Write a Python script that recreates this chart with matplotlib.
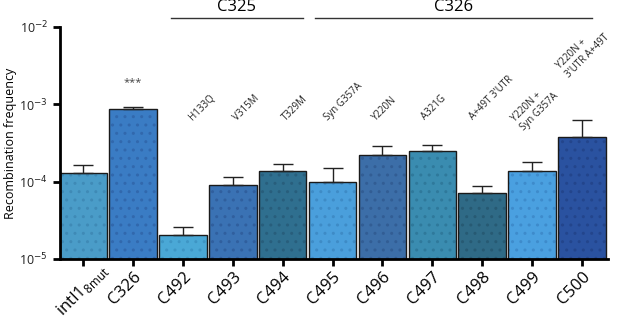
import numpy as np
import matplotlib
matplotlib.use("Agg")
import matplotlib.pyplot as plt
import matplotlib.transforms as mtransforms

plt.rcParams['font.family'] = ['Open Sans', 'DejaVu Sans']
plt.rcParams['hatch.linewidth'] = 1.0

strains = [r'intI1$_{\mathregular{8mut}}$', 'C326', 'C492', 'C493', 'C494', 'C495',
           'C496', 'C497', 'C498', 'C499', 'C500']
freq = [1.3e-4, 8.7e-4, 2.05e-5, 9.1e-5, 1.38e-4, 9.8e-5,
        2.2e-4, 2.45e-4, 7.1e-5, 1.35e-4, 3.8e-4]
freq_err_top = [1.65e-4, 9.3e-4, 2.6e-5, 1.15e-4, 1.7e-4, 1.48e-4,
                2.9e-4, 2.95e-4, 8.8e-5, 1.8e-4, 6.2e-4]
colors = ['#4a9cc8', '#3a7cc4', '#4aa8d6', '#3a72b4', '#2f6f8f', '#4a9fdc',
          '#3c6ea8', '#3a8cb0', '#2f6a86', '#4aa0e0', '#2a52a0']
hatch_colors = ['#3f8ab6', '#3168ad', '#3e95c4', '#305f9e', '#285e7c', '#3e8bc6',
                '#325d94', '#2f799b', '#275a73', '#3e8bcb', '#23458c']

mutations = ['H133Q', 'V315M', 'T329M', 'Syn G357A', 'Y220N', 'A321G',
             "A+49T 3'UTR", 'Y220N +\nSyn G357A', "Y220N +\n3'UTR A+49T"]
mut_bar = [2, 3, 4, 5, 6, 7, 8, 9, 10]
groups = ['C325', 'C326']
group_spans = [(1.75, 4.4), (4.65, 10.2)]

# label anchor offsets (layout only)
mut_dx = [0.24, 0.13, 0.11, -0.05, -0.09, -0.11, -0.14, -0.12, -0.22]
mut_y = [0.586, 0.586, 0.586, 0.586, 0.586, 0.59, 0.59, 0.543, 0.772]

x = np.arange(len(strains))
fig = plt.figure(figsize=(6.17, 3.2), dpi=100)
ax = fig.add_axes([0.097, 0.191, 0.888, 0.725])

ax.bar(x, freq, width=0.95, color=colors, linewidth=0)
hb = ax.bar(x, freq, width=0.95, fill=False, linewidth=0)
for b, hc in zip(hb, hatch_colors):
    b.set_hatch('..')
    b.set_edgecolor(hc)
ax.bar(x, freq, width=0.95, fill=False, edgecolor='#1a1a1a', linewidth=1.0)

lower = np.zeros(len(freq))
upper = np.array(freq_err_top) - np.array(freq)
ax.errorbar(x, freq, yerr=[lower, upper], fmt='none', ecolor='#222222',
            elinewidth=1.0, capsize=7, capthick=1.0)

ax.set_yscale('log')
ax.set_ylim(1e-5, 1e-2)
ax.set_xlim(-0.47, 10.52)
ax.yaxis.set_minor_locator(matplotlib.ticker.NullLocator())
ax.set_yticks([1e-5, 1e-4, 1e-3, 1e-2])
ax.set_yticklabels([r'10$^{-5}$', r'10$^{-4}$', r'10$^{-3}$', r'10$^{-2}$'],
                   fontsize=9, color='#222222')
ax.set_ylabel('Recombination frequency', fontsize=9)
ax.yaxis.set_label_coords(-0.078, 0.5)

ax.set_xticks(x)
ax.set_xticklabels(strains, rotation=45, ha='right', rotation_mode='anchor',
                   fontsize=12)
ax.tick_params(axis='both', direction='out', length=5, width=2)
ax.tick_params(axis='x', pad=2)
for s in ['top', 'right']:
    ax.spines[s].set_visible(False)
for s in ['left', 'bottom']:
    ax.spines[s].set_linewidth(2)

# first label sits a bit right of its tick, as in the original
lbl0 = ax.get_xticklabels()[0]
lbl0.set_transform(lbl0.get_transform() +
                   mtransforms.ScaledTranslation(0.15, 0.08, fig.dpi_scale_trans))

ax.text(1, 1.9e-3, '***', ha='center', va='center', fontsize=8, color='#444444')

trans = mtransforms.blended_transform_factory(ax.transData, ax.transAxes)
for m, bi, dx, yy in zip(mutations, mut_bar, mut_dx, mut_y):
    ax.text(bi + dx, yy, m, rotation=45, ha='left', va='bottom', fontsize=7,
            transform=trans, rotation_mode='anchor', multialignment='left',
            color='#222222')

for g, (x0, x1) in zip(groups, group_spans):
    ax.plot([x0, x1], [1.04, 1.04], color='#333333', lw=1.0, transform=trans,
            clip_on=False)
    ax.text((x0 + x1) / 2, 1.085, g, ha='center', va='center', fontsize=12,
            transform=trans)

fig.savefig('out.png', dpi=100)
